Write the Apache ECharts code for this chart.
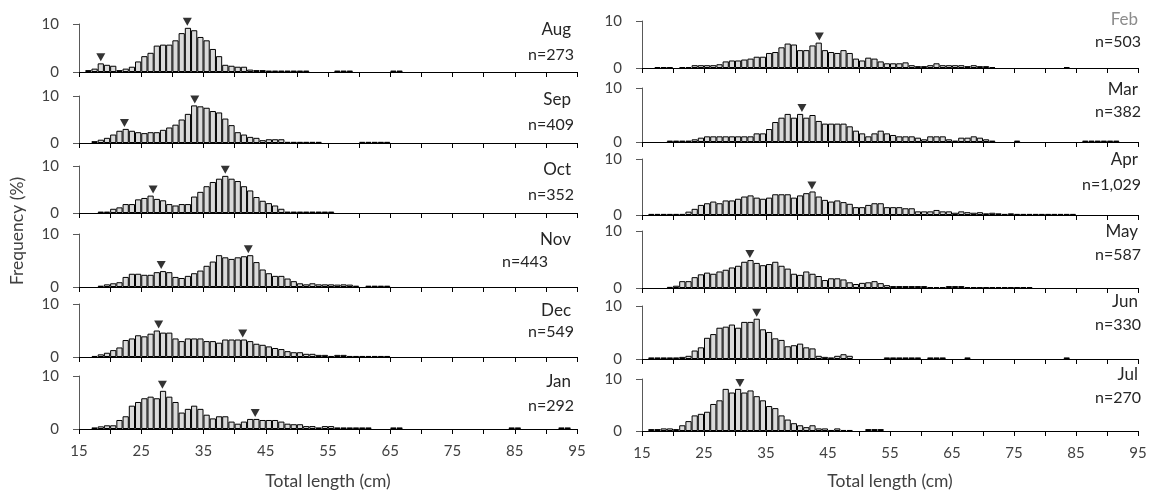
<!DOCTYPE html>
<html><head><meta charset="utf-8">
<script src="https://cdn.jsdelivr.net/npm/echarts@6/dist/echarts.min.js"></script>
<style>html,body{margin:0;padding:0;background:#fff}#c{width:1152px;height:490px}</style>
</head><body><div id="c"></div>
<script>
// ---------- DATA ----------
const xTickLabels = [15, 25, 35, 45, 55, 65, 75, 85, 95];
const monthLabels = ['Aug','Sep','Oct','Nov','Dec','Jan','Feb','Mar','Apr','May','Jun','Jul'];
const sampleSizes = ['n=273','n=409','n=352','n=443','n=549','n=292','n=503','n=382','n=1,029','n=587','n=330','n=270'];

// frequency (%) per 1-cm total-length class, first class given by start*
const startAug = 16;
const freqAug = [0.4,0.7,1.8,1.5,1.3,0.4,0.7,1.1,2.2,3.3,4.0,5.5,5.7,5.7,6.6,8.1,9.2,8.7,7.3,6.6,4.8,3.3,1.5,1.3,1.1,1.1,0.5,
  0.4,0.4,0.3,0.3,0.3,0.3,0.3,0.3,0.3,0,0,0,0,0.3,0.3,0.3,0,0,0,0,0,0,0.3,0.3];
const startSep = 17;
const freqSep = [0.4,0.7,1.1,1.8,2.6,3.0,2.6,2.3,2.1,2.3,2.3,2.8,3.3,3.9,5.0,6.2,8.0,7.8,7.5,6.8,6.5,5.2,3.8,2.3,1.8,1.3,1.1,0.6,
  0.8,0.8,0.8,0.25,0.25,0.25,0.25,0.25,0.25,0,0,0,0,0,0,0.25,0.25,0.25,0.25,0.25];
const startOct = 18;
const freqOct = [0.3,0.3,0.9,1.2,1.9,1.9,2.9,3.2,3.7,3.0,2.7,1.9,1.6,1.9,1.9,3.5,4.5,5.7,6.6,7.3,7.9,7.3,6.8,5.7,4.8,3.4,2.6,2.1,1.6,0.9,
  0.3,0.3,0.3,0.3,0.3,0.3,0.3,0.3];
const startNov = 18;
const freqNov = [0.25,0.5,0.7,0.9,1.9,2.5,2.5,2.3,2.3,2.8,3.0,2.8,1.9,1.7,2.1,2.6,3.1,4.0,4.8,6.0,5.6,5.3,5.6,5.8,6.0,4.7,3.3,2.6,2.1,2.1,
  1.6,1.1,0.7,0.5,0.7,0.5,0.5,0.5,0.45,0.5,0.45,0.25,0,0.25,0.25,0.25,0.25];
const startDec = 17;
const freqDec = [0.2,0.5,0.8,1.3,1.8,3.2,3.5,4.1,3.9,4.4,5.0,4.6,4.6,3.5,3.0,3.5,3.5,3.5,3.0,3.0,2.7,3.3,3.3,3.3,3.3,3.0,2.5,2.3,2.0,1.7,
  1.5,1.1,0.9,0.9,0.6,0.6,0.4,0.4,0.2,0.4,0.4,0.2,0.2,0.2,0.2,0.2,0.2,0.2];
const startJan = 17;
const freqJan = [0.3,0.5,0.7,0.7,1.7,2.4,4.4,5.1,5.8,6.1,5.8,7.2,6.1,5.1,3.1,3.8,4.4,3.8,2.7,2.0,2.4,2.4,1.4,1.0,1.4,1.9,1.9,1.7,1.7,1.7,
  1.4,1.0,0.9,0.9,0.55,0.55,0.3,0.55,0.55,0.3,0.3,0.3,0.3,0.3,0.3,0,0,0,0.3,0.3,0,0,0,0,0,0,0,0,0,0,0,0,0,0,0,0,0,0.3,0.3,0,0,0,0,0,0,0.3,0.3];
const startFeb = 17;
const freqFeb = [0.2,0.2,0.2,0,0.2,0.2,0.6,0.6,0.6,0.6,0.8,1.4,1.6,1.6,1.8,2.0,2.4,2.4,3.2,3.4,4.4,5.2,5.0,3.8,3.8,4.8,5.4,3.8,3.4,3.2,
  3.8,3.2,2.0,1.6,2.2,2.0,1.4,1.0,1.0,1.0,1.2,0.6,0.4,0.4,0.6,1.0,0.6,0.6,0.6,0.6,0.4,0.6,0.4,0.4,0.2,0,0,0,0,0,0,0,0,0,0,0,0.2];
const startMar = 19;
const freqMar = [0.26,0.26,0.26,0.26,0.5,0.8,1.05,1.05,1.05,1.05,1.05,1.05,1.05,1.05,1.6,1.6,2.4,3.7,4.5,5.2,4.5,5.2,4.5,5.0,3.9,3.4,
  3.4,3.4,3.4,2.9,2.1,1.6,1.05,1.6,2.1,1.6,1.3,1.05,1.05,1.05,0.8,0.5,1.05,1.05,1.05,0.5,0.26,0.8,0.8,1.05,0.8,0.5,0.26,0,0,0,0.26,
  0,0,0,0,0,0,0,0,0,0,0.26,0.26,0.26,0.26,0.26,0.26];
const startApr = 16;
const freqApr = [0.2,0.2,0.2,0.2,0.2,0.2,0.6,1.1,1.8,2.1,2.4,2.1,2.6,2.6,2.9,3.3,3.5,3.1,2.9,3.1,3.7,3.7,3.7,3.1,3.5,3.9,4.2,3.3,2.7,
  2.4,2.6,2.3,2.0,1.4,1.4,1.8,2.1,2.1,1.4,1.4,1.4,1.2,1.2,0.65,0.65,0.65,0.9,0.65,0.65,0.4,0.65,0.5,0.4,0.5,0.3,0.4,0.3,0.2,0.3,0.2,
  0.2,0.2,0.2,0.2,0.2,0.2,0.2,0.2,0.2];
const startMay = 19;
const freqMay = [0.2,0.4,1.2,1.2,1.9,2.4,2.7,2.5,2.9,3.2,3.6,3.9,4.6,4.9,4.4,4.0,4.2,4.6,3.9,3.4,2.5,2.3,2.9,2.5,2.1,1.4,1.7,1.7,1.5,
  1.0,0.7,0.9,1.0,1.2,0.85,0.5,0.34,0.34,0.34,0.34,0.34,0.34,0.17,0.17,0.17,0.34,0.34,0.34,0.17,0.17,0.17,0.17,0.17,0.17,0.17,0.17,0.17,0.17,0.17];
const startJun = 16;
const freqJun = [0.3,0.3,0.3,0.3,0.3,0.4,0.6,1.6,2.2,4.0,4.7,5.9,6.1,6.5,5.9,7.0,7.0,7.6,5.6,5.1,3.9,3.6,2.4,2.6,2.9,2.2,2.0,0.6,0.4,
  0.3,0.6,0.9,0.6,0,0,0,0,0,0.3,0.3,0.3,0.3,0.3,0.3,0,0.3,0.3,0.3,0,0,0,0.3,0,0,0,0,0,0,0,0,0,0,0,0,0,0,0,0.3];
const startJul = 16;
const freqJul = [0.37,0.37,0.5,0.5,0.37,1.1,1.9,3.0,3.3,3.7,5.2,5.9,8.1,7.4,8.1,7.4,7.8,6.7,5.9,4.8,4.4,3.0,2.2,1.5,1.1,0.74,1.1,
  0.5,0.5,0.2,0.5,0.2,0.2,0,0,0.37,0.37,0.37];

// modal lengths (cm) marked with triangles
const modesAug = [18.5, 32.4];
const modesSep = [22.3, 33.6];
const modesOct = [26.9, 38.5];
const modesNov = [28.2, 42.2];
const modesDec = [27.8, 41.3];
const modesJan = [28.4, 43.3];
const modesFeb = [43.6];
const modesMar = [40.8];
const modesApr = [42.4];
const modesMay = [32.4];
const modesJun = [33.5];
const modesJul = [30.8];

// ---------- BUILD ----------
const freqs = [freqAug,freqSep,freqOct,freqNov,freqDec,freqJan,freqFeb,freqMar,freqApr,freqMay,freqJun,freqJul];
const starts = [startAug,startSep,startOct,startNov,startDec,startJan,startFeb,startMar,startApr,startMay,startJun,startJul];
const modes = [modesAug,modesSep,modesOct,modesNov,modesDec,modesJan,modesFeb,modesMar,modesApr,modesMay,modesJun,modesJul];

const colLeft = [79, 642];
const colWidth = [498, 496];
const rowTop = [[24,96,166,234,304,376],[21,88,159,231,306,379]];
const rowBase = [[72,143,213,287,357,429],[68,142,215,288,359,431]];
const monthY = [[30,100,170,240,311,382],[20,90,160,232,302,375]];
const nY = [[55,125,195,262,332,406],[42,112,185,255,325,398]];

const FONT = 'Lato';
const TXT = '#404040';
const grids = [], xAxes = [], yAxes = [], series = [], graphics = [];

monthLabels.forEach((m, i) => {
  const col = i < 6 ? 0 : 1, row = i % 6;
  const top = rowTop[col][row], base = rowBase[col][row];
  grids.push({left: colLeft[col], width: colWidth[col], top: top, height: base - top});
  xAxes.push({
    type: 'value', gridIndex: i, min: 15, max: 95, interval: 5,
    axisLine: {show: true, onZero: false, lineStyle: {color: '#000', width: 1}},
    axisTick: {show: true, length: 5, lineStyle: {color: '#000', width: 1}},
    axisLabel: {show: row === 5, margin: 15, fontFamily: FONT, fontSize: 15, color: TXT,
      formatter: v => xTickLabels.includes(v) ? String(v) : ''},
    splitLine: {show: false}
  });
  yAxes.push({
    type: 'value', gridIndex: i, min: 0, max: 10, interval: 10,
    axisLine: {show: true, lineStyle: {color: '#595959', width: 1}},
    axisTick: {show: true, length: 6, lineStyle: {color: '#595959', width: 1}},
    axisLabel: {margin: 20, fontFamily: FONT, fontSize: 15, color: TXT},
    splitLine: {show: false}
  });
  const f = freqs[i], s = starts[i];
  const barData = [];
  f.forEach((v, k) => { if (v > 0) barData.push([s + k + 0.5, v]); });
  series.push({
    type: 'bar', xAxisIndex: i, yAxisIndex: i, data: barData,
    barWidth: colWidth[col] / 80,
    itemStyle: {color: '#dadada', borderColor: '#000', borderWidth: 1},
    silent: true
  });
  const hAt = x => {
    const a = Math.floor(x - 0.45) - s, b = Math.floor(x + 0.45) - s;
    return Math.max(f[a] || 0, f[b] || 0);
  };
  series.push({
    type: 'scatter', xAxisIndex: i, yAxisIndex: i,
    data: modes[i].map(x => [x, hAt(x)]),
    symbol: 'triangle', symbolRotate: 180, symbolSize: [9, 8], symbolOffset: [0, -6],
    itemStyle: {color: '#000'}, silent: true, z: 5
  });
  const rightX = col === 0 ? 574 : 1141;
  graphics.push({type: 'text', x: rightX - 3, y: monthY[col][row],
    style: {text: m, fontFamily: FONT, fontSize: 17, fill: m === 'Feb' ? '#8c8c8c' : '#262626',
      textAlign: 'right', textVerticalAlign: 'middle'}});
  graphics.push({type: 'text', x: (m === 'Nov') ? rightX - 26 : rightX, y: nY[col][row],
    style: {text: sampleSizes[i], fontFamily: FONT, fontSize: 16, fill: '#262626',
      textAlign: 'right', textVerticalAlign: 'middle'}});
});

graphics.push({type: 'text', x: 17, y: 231, rotation: Math.PI / 2,
  style: {text: 'Frequency (%)', fontFamily: FONT, fontSize: 17.5, fill: TXT, textAlign: 'center', textVerticalAlign: 'middle'}});
graphics.push({type: 'text', x: colLeft[0] + colWidth[0] / 2, y: 472,
  style: {text: 'Total length (cm)', fontFamily: FONT, fontSize: 17.5, fill: TXT, textAlign: 'center', textVerticalAlign: 'top'}});
graphics.push({type: 'text', x: colLeft[1] + colWidth[1] / 2, y: 472,
  style: {text: 'Total length (cm)', fontFamily: FONT, fontSize: 17.5, fill: TXT, textAlign: 'center', textVerticalAlign: 'top'}});

const chart = echarts.init(document.getElementById('c'), null, {renderer: 'canvas'});
chart.setOption({
  animation: false,
  backgroundColor: '#fff',
  grid: grids, xAxis: xAxes, yAxis: yAxes, series: series, graphic: graphics
});
</script></body></html>
